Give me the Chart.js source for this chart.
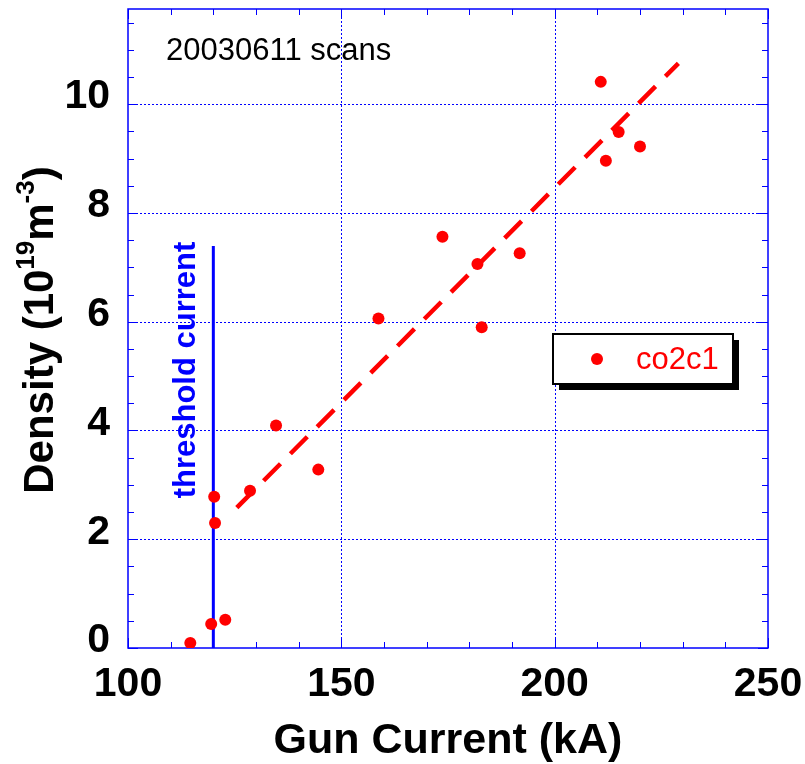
<!DOCTYPE html>
<html>
<head>
<meta charset="utf-8">
<script src="https://cdn.jsdelivr.net/npm/chart.js@4/dist/chart.umd.min.js"></script>
<style>
  html, body { margin: 0; padding: 0; background: #fff; }
  #wrap { width: 805px; height: 764px; position: relative; }
</style>
</head>
<body>
<div id="wrap"><canvas id="c" width="805" height="764"></canvas></div>
<script>
// Gun current scan data (kA) and measured line density (10^19 m^-3)
const gunCurrent = [114.6, 119.5, 122.8, 120.2, 120.4, 128.6, 134.7, 144.6, 158.7, 173.7, 181.9, 182.9, 191.8, 210.8, 212.0, 215.0, 220.0];
const density    = [0.09, 0.44, 0.52, 2.78, 2.30, 2.89, 4.09, 3.28, 6.06, 7.56, 7.06, 5.90, 7.26, 10.41, 8.96, 9.49, 9.22];

// Linear trend (dashed) end points
const fitX = [125.5, 229.0];
const fitY = [2.58, 10.75];

// Threshold current marker
const thresholdX = [120, 120];
const thresholdY = [0, 7.39];

// Axis ticks
const xTicks = [100, 150, 200, 250];
const yTicks = [0, 2, 4, 6, 8, 10];

const BLUE = '#0000ff';
const RED = '#ff0000';
const FONT = '"Liberation Sans", Arial, Helvetica, sans-serif';

const frame = {
  id: 'frame',
  beforeDatasetsDraw(chart) {
    const {ctx, chartArea: a, scales: {x, y}} = chart;
    ctx.save();
    // dotted major grid
    ctx.strokeStyle = BLUE;
    ctx.lineWidth = 1;
    ctx.setLineDash([2, 2]);
    xTicks.forEach(v => {
      const px = Math.round(x.getPixelForValue(v)) + 0.5;
      if (px <= a.left + 1 || px >= a.right - 1) return;
      ctx.beginPath(); ctx.moveTo(px, a.top); ctx.lineTo(px, a.bottom); ctx.stroke();
    });
    yTicks.forEach(v => {
      const py = Math.round(y.getPixelForValue(v)) + 0.5;
      if (py <= a.top + 1 || py >= a.bottom - 1) return;
      ctx.beginPath(); ctx.moveTo(a.left, py); ctx.lineTo(a.right, py); ctx.stroke();
    });
    ctx.setLineDash([]);
    // inward tick marks on all four sides
    for (let v = 100; v <= 250; v += 10) {
      const px = Math.round(x.getPixelForValue(v)) + 0.5;
      const len = (v % 50 === 0) ? 10 : 6;
      ctx.beginPath();
      ctx.moveTo(px, a.bottom); ctx.lineTo(px, a.bottom - len);
      ctx.moveTo(px, a.top); ctx.lineTo(px, a.top + len);
      ctx.stroke();
    }
    for (let v = 0; v <= 11.5; v += 0.5) {
      const py = Math.round(y.getPixelForValue(v)) + 0.5;
      const len = (v % 2 === 0) ? 10 : 6;
      ctx.beginPath();
      ctx.moveTo(a.left, py); ctx.lineTo(a.left + len, py);
      ctx.moveTo(a.right, py); ctx.lineTo(a.right - len, py);
      ctx.stroke();
    }
    ctx.lineWidth = 1.5;
    ctx.strokeRect(a.left, a.top, a.right - a.left, a.bottom - a.top);
    ctx.restore();
  },
  afterDatasetsDraw(chart) {
    const {ctx} = chart;
    ctx.save();
    // run label
    ctx.fillStyle = '#000';
    ctx.font = '31px ' + FONT;
    ctx.textBaseline = 'alphabetic';
    ctx.fillText('20030611 scans', 166, 60);

    // threshold label
    ctx.save();
    ctx.translate(186, 370);
    ctx.rotate(-Math.PI / 2);
    ctx.fillStyle = BLUE;
    ctx.font = 'bold 31px ' + FONT;
    ctx.textAlign = 'center';
    ctx.textBaseline = 'middle';
    ctx.fillText('threshold current', 0, 0);
    ctx.restore();

    // legend box with drop shadow
    const bx = 553, by = 334, bw = 180, bh = 50;
    ctx.fillStyle = '#000';
    ctx.fillRect(bx + 6, by + 6, bw, bh);
    ctx.fillStyle = '#fff';
    ctx.fillRect(bx, by, bw, bh);
    ctx.strokeStyle = '#000';
    ctx.lineWidth = 2;
    ctx.strokeRect(bx, by, bw, bh);
    ctx.fillStyle = RED;
    ctx.beginPath(); ctx.arc(597, 359, 6, 0, Math.PI * 2); ctx.fill();
    ctx.font = '31px ' + FONT;
    ctx.textBaseline = 'middle';
    ctx.fillText('co2c1', 636, 360);

    // y-axis title with superscripts
    ctx.save();
    ctx.translate(41, 330);
    ctx.rotate(-Math.PI / 2);
    ctx.fillStyle = '#000';
    ctx.textBaseline = 'middle';
    const big = 'bold 42px ' + FONT;
    const sup = 'bold 26px ' + FONT;
    const parts = [
      ['Density (10', big, 0], ['19', sup, -14], ['m', big, 0], ['-3', sup, -14], [')', big, 0]
    ];
    let total = 0;
    parts.forEach(p => { ctx.font = p[1]; total += ctx.measureText(p[0]).width; });
    let cx = -total / 2;
    parts.forEach(p => {
      ctx.font = p[1];
      ctx.fillText(p[0], cx, p[2]);
      cx += ctx.measureText(p[0]).width;
    });
    ctx.restore();

    // x-axis title
    ctx.fillStyle = '#000';
    ctx.font = 'bold 43px ' + FONT;
    ctx.textAlign = 'center';
    ctx.textBaseline = 'middle';
    ctx.fillText('Gun Current (kA)', 448, 741);
    ctx.restore();
  }
};

new Chart(document.getElementById('c'), {
  type: 'scatter',
  data: {
    datasets: [
      {
        label: 'threshold',
        type: 'line',
        data: thresholdX.map((v, i) => ({x: v, y: thresholdY[i]})),
        borderColor: BLUE, borderWidth: 3, pointRadius: 0, order: 3
      },
      {
        label: 'fit',
        type: 'line',
        data: fitX.map((v, i) => ({x: v, y: fitY[i]})),
        borderColor: RED, borderWidth: 4.5, borderDash: [24, 14], pointRadius: 0, order: 2
      },
      {
        label: 'co2c1',
        data: gunCurrent.map((v, i) => ({x: v, y: density[i]})),
        backgroundColor: RED, borderColor: RED, pointRadius: 6, borderWidth: 0, order: 1
      }
    ]
  },
  options: {
    responsive: false,
    animation: false,
    devicePixelRatio: 1,
    layout: { padding: { top: 9, right: 37, left: 0, bottom: 0 } },
    plugins: { legend: { display: false }, tooltip: { enabled: false } },
    scales: {
      x: {
        type: 'linear', min: 100, max: 250,
        afterFit(s) { s.height = 764 - 648; s.paddingLeft = 0; s.paddingRight = 0; },
        afterBuildTicks(s) { s.ticks = xTicks.map(v => ({value: v})); },
        grid: { display: false, drawTicks: false },
        border: { display: false },
        ticks: { color: '#000', padding: 12, font: { family: FONT, size: 41, weight: 'bold' }, maxRotation: 0 }
      },
      y: {
        type: 'linear', min: 0, max: 11.75,
        afterFit(s) { s.width = 128; s.paddingTop = 0; s.paddingBottom = 0; },
        afterBuildTicks(s) { s.ticks = yTicks.map(v => ({value: v})); },
        grid: { display: false, drawTicks: false },
        border: { display: false },
        ticks: { color: '#000', padding: 18, labelOffset: -7, font: { family: FONT, size: 41, weight: 'bold' } }
      }
    }
  },
  plugins: [frame]
});
</script>
</body>
</html>
